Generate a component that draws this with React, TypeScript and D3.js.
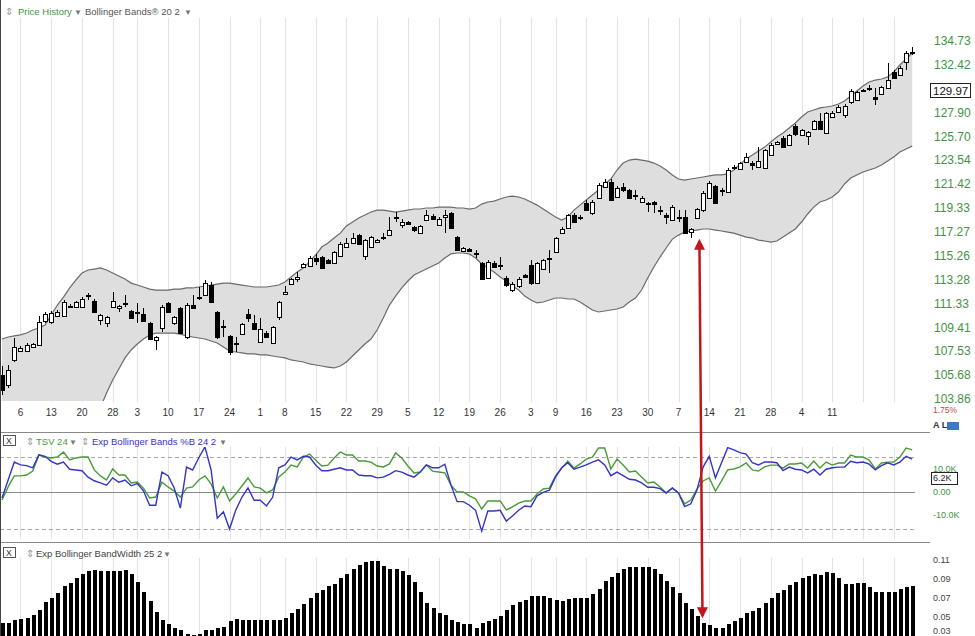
import React from 'react';
import * as d3 from 'd3';

const N = 149;

const opens = [105.68,104.92,106.85,107.55,107.55,107.86,108.02,109.92,109.84,110.32,
110.32,111.10,111.04,111.04,111.93,111.53,110.00,109.76,111.04,110.96,
111.33,110.72,110.64,110.48,109.76,108.41,109.36,111.37,109.76,110.96,
108.65,111.20,111.81,112.01,112.83,110.64,109.52,108.73,108.14,108.88,
110.48,109.76,108.26,108.96,108.18,110.24,112.09,112.91,113.32,114.32,
114.40,115.07,115.15,114.90,114.65,115.24,115.99,116.33,117.00,115.24,
115.99,116.41,116.83,117.00,118.55,117.86,118.12,117.69,117.17,118.29,
118.64,117.86,118.55,118.89,116.83,115.66,115.83,115.49,114.65,113.41,
114.65,114.45,113.41,112.42,112.75,113.66,114.49,112.99,114.15,114.99,
115.57,117.17,117.60,118.72,118.46,119.76,118.89,120.20,121.16,121.60,
120.29,121.16,120.90,120.46,119.85,119.67,119.85,119.15,118.72,118.29,
118.51,118.55,117.26,118.46,119.15,120.20,121.25,120.86,120.72,122.89,
122.76,123.38,123.29,122.94,122.85,124.01,125.05,125.56,124.91,126.66,
125.83,125.74,126.38,127.12,126.01,127.49,127.95,127.67,128.88,129.07,
129.96,130.15,129.35,129.64,130.20,131.73,131.44,132.69,133.61];

const highs = [106.38,106.46,108.57,107.94,108.18,108.18,110.32,110.64,110.72,110.80,
111.61,111.29,111.53,111.85,112.17,111.69,110.48,110.32,112.26,111.20,
112.01,110.80,111.37,110.96,109.84,108.73,111.20,111.45,110.32,111.04,
111.37,112.01,112.67,113.24,113.08,110.72,110.00,108.81,108.65,109.76,
110.88,110.40,110.16,109.12,109.52,111.53,112.75,113.41,113.90,114.65,
115.24,115.41,115.24,114.99,115.66,116.41,116.75,117.17,117.09,116.66,
116.92,116.66,117.17,118.55,118.98,118.38,118.20,117.78,117.86,119.15,
118.81,118.55,119.15,118.98,116.92,115.99,115.91,115.74,114.74,114.90,
114.82,115.15,113.57,113.08,113.49,113.74,114.90,114.74,114.99,115.74,
116.83,117.69,118.81,118.89,118.72,120.02,120.02,121.52,121.87,121.87,
121.25,121.52,120.99,120.90,120.37,119.85,119.93,119.50,118.89,119.58,
119.15,119.15,117.60,119.33,120.81,121.69,121.34,121.08,122.85,123.12,
123.38,124.19,123.47,124.73,124.55,125.10,125.28,125.74,125.92,126.84,
126.38,126.20,127.21,127.86,127.95,128.05,128.60,128.70,130.11,129.92,
130.11,130.48,130.20,130.39,132.59,131.92,132.30,133.75,134.14];

const lows = [104.16,104.69,106.69,107.47,107.47,107.79,107.94,109.76,109.68,110.24,
110.24,110.96,110.96,110.96,111.61,110.56,109.60,109.44,110.96,110.64,
111.04,110.08,109.76,109.84,108.41,107.63,109.04,110.56,109.60,108.88,
108.49,110.88,111.61,111.93,111.37,108.49,108.65,107.24,107.47,108.81,
109.84,109.20,108.18,108.57,108.10,110.00,112.01,112.83,113.08,114.24,
114.32,114.49,114.15,114.57,114.57,115.15,115.91,116.24,116.16,114.90,
115.91,116.33,116.58,116.92,118.12,117.60,117.86,117.26,117.09,118.20,
118.29,117.78,117.17,117.52,115.66,115.60,115.57,115.07,113.24,113.32,
114.24,114.07,112.67,112.26,112.59,113.41,112.83,112.91,114.07,113.82,
115.49,117.09,117.52,118.03,118.29,119.06,118.72,120.11,121.08,119.93,
120.20,120.72,120.11,120.02,119.76,118.98,118.89,118.72,117.95,118.20,
118.12,117.09,116.75,118.38,118.98,120.11,119.67,120.37,120.64,122.67,
122.67,123.29,122.67,122.85,122.76,123.92,125.01,124.64,124.82,125.74,
125.74,124.91,126.29,126.29,125.92,127.39,127.86,127.39,128.70,128.98,
129.92,129.92,128.60,129.54,130.11,131.06,131.34,131.92,133.36];

const closes = [104.54,106.07,107.86,107.79,108.02,108.10,109.84,110.48,110.56,110.64,
111.45,111.05,111.45,111.69,112.01,110.64,110.40,110.24,111.53,111.12,
111.37,110.16,110.60,109.92,108.49,108.65,111.04,110.64,110.24,108.96,
111.20,110.96,111.85,112.99,111.45,108.65,109.48,107.47,108.18,109.68,
110.16,109.28,109.28,108.65,109.44,111.45,112.26,113.32,113.49,114.57,
115.07,114.82,114.24,114.65,115.57,116.24,116.33,116.75,116.24,116.58,
116.83,116.58,116.87,117.43,118.51,118.12,117.95,117.43,117.78,118.72,
118.38,118.38,118.72,117.60,115.74,115.91,115.66,115.41,113.32,114.74,
114.32,114.40,112.83,112.91,113.32,113.49,112.99,114.65,114.90,115.03,
116.75,117.52,118.72,118.12,118.59,119.15,119.85,121.34,121.60,120.02,
121.08,120.90,120.20,120.42,120.20,119.76,119.67,119.19,118.55,119.41,
118.55,117.17,117.52,119.24,120.64,121.52,119.76,120.90,122.67,122.94,
123.29,123.83,123.12,123.47,124.46,124.91,125.19,124.73,125.83,125.92,
126.29,126.11,127.12,126.38,127.86,127.86,128.42,128.51,129.92,129.82,
130.01,130.20,129.17,130.29,130.96,131.15,132.11,133.56,133.66];

const upperBand = [108.49,108.65,108.73,108.81,108.96,109.20,109.36,109.60,110.40,111.20,
111.85,112.59,113.24,113.82,114.07,114.15,114.24,114.07,113.82,113.57,
113.32,112.99,112.83,112.67,112.50,112.42,112.42,112.42,112.50,112.50,
112.59,112.59,112.67,112.75,112.83,112.91,112.99,112.99,112.91,112.83,
112.75,112.67,112.67,112.67,112.75,112.83,113.08,113.49,113.90,114.24,
114.74,115.32,115.99,116.33,116.75,117.17,117.78,118.12,118.46,118.72,
118.98,119.15,119.15,119.06,118.98,119.06,119.15,119.24,119.24,119.33,
119.33,119.41,119.41,119.41,119.33,119.33,119.24,119.33,119.67,119.85,
119.93,120.11,120.29,120.37,120.29,120.11,119.85,119.58,119.24,118.89,
118.55,118.29,118.55,119.15,119.58,120.02,120.46,120.90,121.43,121.87,
122.67,123.29,123.56,123.65,123.56,123.47,123.29,123.03,122.67,122.23,
121.87,121.78,121.87,121.96,122.05,122.14,122.23,122.23,122.32,122.67,
123.20,123.65,124.01,124.37,124.73,125.19,125.65,126.01,126.47,126.93,
127.49,127.95,128.14,128.33,128.42,128.51,128.70,128.98,129.45,129.92,
130.39,130.77,130.96,131.06,131.25,131.73,132.40,132.98,133.56];

const lowerBand = [96.5,96.7,96.9,97.1,97.3,97.6,97.9,98.3,98.7,99.2,
99.7,100.2,100.7,101.3,101.9,102.5,103.2,104.31,105.30,106.15,
107.01,107.63,108.10,108.49,108.81,108.96,108.96,108.96,108.96,108.88,
108.73,108.65,108.57,108.49,108.33,108.18,107.86,107.55,107.47,107.40,
107.32,107.32,107.24,107.24,107.16,107.08,107.01,106.85,106.77,106.69,
106.54,106.46,106.38,106.30,106.23,106.38,106.69,107.16,107.63,108.10,
108.49,109.20,110.16,111.20,111.93,112.59,113.16,113.66,113.90,114.15,
114.40,114.65,115.07,115.41,115.49,115.49,115.41,115.07,114.57,114.24,
113.90,113.49,113.16,112.75,112.42,111.93,111.61,111.37,111.45,111.61,
111.77,111.77,111.69,111.69,111.45,111.12,110.80,110.64,110.72,110.80,
110.88,111.04,111.45,111.77,112.42,113.41,114.32,115.15,115.91,116.66,
117.00,117.26,117.35,117.43,117.52,117.52,117.43,117.35,117.26,117.17,
117.00,116.83,116.75,116.58,116.50,116.41,116.50,116.83,117.17,117.52,
118.12,118.81,119.41,119.85,120.02,120.29,120.72,121.43,121.96,122.23,
122.49,122.67,122.85,123.12,123.47,123.83,124.28,124.55,124.82];

// TSV in thousands
const tsvK = [-3.5,2.2,7.0,7.0,7.4,9.1,16.1,15.2,14.8,15.2,
17.4,13.9,14.8,15.2,15.2,9.6,7.0,5.2,10.0,7.4,
7.4,3.9,4.3,1.7,-2.6,-2.2,4.3,2.2,0.4,-2.2,
1.7,2.2,5.2,7.0,3.5,-2.6,2.2,-3.9,-0.9,2.6,
6.1,2.2,1.7,-0.4,0.9,6.5,8.7,11.7,10.9,15.2,
16.5,13.9,11.3,11.7,14.8,17.4,16.1,16.1,13.5,13.5,
13.0,11.3,10.9,12.2,17.0,14.8,11.3,8.3,8.7,11.7,
9.1,8.7,8.3,3.0,0.0,0.0,-1.7,-3.0,-7.4,-3.9,
-3.9,-3.9,-7.8,-6.5,-4.8,-3.9,-3.9,-0.9,1.3,1.7,
7.0,10.4,13.5,10.4,12.2,14.3,15.2,19.1,19.1,10.0,
14.3,11.7,8.7,9.1,6.5,3.9,4.3,2.2,-0.4,1.7,
-0.4,-5.2,-3.5,1.3,4.8,6.1,0.4,4.8,9.6,10.0,
10.9,12.6,9.6,9.1,10.9,11.7,11.7,10.4,12.2,12.2,
12.6,10.4,13.5,10.4,13.0,11.7,12.6,12.6,16.1,15.2,
15.2,13.9,10.0,12.6,13.0,13.0,15.2,19.1,18.3];

const pctB = [0.43,0.68,0.93,0.89,0.88,0.85,1.03,1.01,0.94,0.90,
0.93,0.83,0.82,0.81,0.72,0.67,0.64,0.61,0.71,0.65,
0.68,0.60,0.63,0.53,0.33,0.33,0.79,0.74,0.57,0.29,
0.86,0.82,0.99,1.14,0.82,0.15,0.24,0.00,0.26,0.44,
0.57,0.40,0.40,0.32,0.44,0.85,0.89,1.00,0.96,1.01,
1.00,0.89,0.81,0.81,0.83,0.85,0.82,0.82,0.75,0.74,
0.74,0.71,0.72,0.76,0.81,0.79,0.75,0.72,0.79,0.89,
0.85,0.85,0.90,0.61,0.38,0.38,0.33,0.26,-0.03,0.25,
0.25,0.26,0.11,0.18,0.26,0.32,0.31,0.46,0.51,0.54,
0.72,0.85,0.92,0.83,0.86,0.89,0.93,0.96,0.89,0.74,
0.79,0.74,0.69,0.68,0.64,0.58,0.58,0.56,0.50,0.57,
0.50,0.31,0.35,0.54,0.86,1.01,0.71,0.92,1.13,1.10,
1.06,1.04,0.92,0.89,0.93,0.93,0.92,0.81,0.86,0.83,
0.82,0.78,0.83,0.75,0.83,0.85,0.86,0.86,0.94,0.92,
0.93,0.90,0.82,0.88,0.92,0.89,0.93,1.01,0.97];

const bandwidth = [0.0437,0.0437,0.0465,0.0479,0.0494,0.0518,0.0578,0.0656,0.0705,0.0754,
0.0825,0.0860,0.0913,0.0952,0.0987,0.0994,0.0984,0.0980,0.0980,0.0984,
0.0994,0.0952,0.0870,0.0758,0.0669,0.0553,0.0472,0.0430,0.0388,0.0359,
0.0317,0.0314,0.0324,0.0367,0.0367,0.0388,0.0394,0.0454,0.0479,0.0465,
0.0465,0.0473,0.0473,0.0473,0.0473,0.0473,0.0494,0.0542,0.0589,0.0642,
0.0705,0.0748,0.0783,0.0822,0.0846,0.0906,0.0952,0.1002,0.1047,0.1079,
0.1086,0.1086,0.1040,0.1002,0.1002,0.0987,0.0941,0.0870,0.0758,0.0652,
0.0595,0.0542,0.0518,0.0473,0.0447,0.0430,0.0423,0.0388,0.0437,0.0454,
0.0479,0.0511,0.0571,0.0631,0.0659,0.0684,0.0719,0.0719,0.0719,0.0695,
0.0677,0.0669,0.0687,0.0695,0.0695,0.0705,0.0740,0.0800,0.0878,0.0917,
0.0966,0.1002,0.1030,0.1030,0.1030,0.1026,0.1002,0.0948,0.0881,0.0818,
0.0748,0.0652,0.0581,0.0507,0.0437,0.0412,0.0388,0.0388,0.0423,0.0458,
0.0494,0.0547,0.0564,0.0599,0.0648,0.0695,0.0748,0.0783,0.0835,0.0870,
0.0906,0.0931,0.0952,0.0944,0.0970,0.0959,0.0906,0.0849,0.0846,0.0853,
0.0860,0.0811,0.0765,0.0765,0.0765,0.0765,0.0790,0.0818,0.0825];

const dateLabels = ["6","13","20","28","3","10","17","24","1","8","15","22","29","5","12","19","26","3","9","16","23","30","7","14","21","28","4","11"];
const dateIdx = [3,8,13,18,22,27,32,37,42,46,51,56,61,66,71,76,81,86,90,95,100,105,110,115,120,125,130,135];
const extraGridIdx = [140, 145];

const priceTicks = [134.73,132.42,127.90,125.70,123.54,121.42,119.33,117.27,115.26,113.28,111.33,109.41,107.53,105.68,103.86];
const lastPrice = 129.97;
const tsvTicks = [10, 0, -10];
const tsvTickLabels = ["10.0K", "0.00", "-10.0K"];
const tsvLast = 6.2;
const bwTicks = [0.11, 0.09, 0.07, 0.05, 0.03];

// annotation arrow: from price low near bar 113 down to the bandwidth squeeze
const arrowIdx = [113.4, 113.9];
const arrowPrice = 116.5;
const arrowBw = 0.051;

const FONT = "'Liberation Sans', Arial, sans-serif";
const GREEN = '#3f943f';
const BLUE = '#3434c8';
const TSVGREEN = '#4a9a3a';
const RED = '#c0161c';

export default function App() {
  const x = d3.scaleLinear().domain([0, N - 1]).range([2, 912.2]);
  const yP = d3.scaleLog().domain([103.86, 134.73]).range([399, 41]);
  const yB = d3.scaleLinear().domain([0, 1]).range([529, 457]);
  const yT = d3.scaleLinear().domain([-10, 10]).range([515, 469]);
  const yW = d3.scaleLinear().domain([0.03, 0.11]).range([636, 560]);

  const idx = d3.range(N);
  const bandArea = d3.area<number>().x(i => x(i)).y0(i => yP(lowerBand[i])).y1(i => yP(upperBand[i]));
  const upLine = d3.line<number>().x(i => x(i)).y(i => yP(upperBand[i]));
  const loLine = d3.line<number>().x(i => x(i)).y(i => yP(lowerBand[i]));
  const tsvLine = d3.line<number>().x(i => x(i)).y(i => yT(tsvK[i]));
  const pbLine = d3.line<number>().x(i => x(i)).y(i => yB(pctB[i]));

  const gridIdx = [...dateIdx, ...extraGridIdx];

  const ax1 = x(arrowIdx[0]);
  const ay1 = yP(arrowPrice);
  const ax2 = x(arrowIdx[1]);
  const ay2 = yW(arrowBw);

  return (
    <svg width={975} height={636} style={{ position: 'absolute', left: 0, top: 0, background: '#fff' }} fontFamily={FONT}>
      <defs>
        <clipPath id="cp1"><rect x={0} y={18} width={918} height={383} /></clipPath>
        <clipPath id="cp2"><rect x={0} y={447} width={918} height={92} /></clipPath>
        <clipPath id="cp3"><rect x={0} y={556} width={918} height={80} /></clipPath>
        <marker id="ah" viewBox="0 0 10 10" refX="8" refY="5" markerWidth="4.4" markerHeight="4.4" orient="auto-start-reverse">
          <path d="M0,0 L10,5 L0,10 z" fill={RED} />
        </marker>
      </defs>
      <rect x={0} y={0} width={975} height={636} fill="#fff" />

      {/* Gridlines */}
      {gridIdx.map((i, k) => {
        const gx = Math.round(x(i)) + 0.5;
        return (
          <g key={'g' + k} stroke="#e2e2e2" strokeWidth={1} shapeRendering="crispEdges">
            <line x1={gx} x2={gx} y1={18} y2={402} />
            <line x1={gx} x2={gx} y1={447} y2={539} />
            <line x1={gx} x2={gx} y1={558} y2={636} />
          </g>
        );
      })}

      {/* Price panel */}
      <g clipPath="url(#cp1)">
        <path d={bandArea(idx) || ''} fill="#dedede" />
        <path d={upLine(idx) || ''} fill="none" stroke="#6a6a6a" strokeWidth={1.2} />
        <path d={loLine(idx) || ''} fill="none" stroke="#6a6a6a" strokeWidth={1.2} />
        {idx.map(i => {
          const cx = Math.round(x(i));
          const yo = yP(opens[i]);
          const yc = yP(closes[i]);
          const top = Math.round(Math.min(yo, yc));
          let bot = Math.round(Math.max(yo, yc));
          if (bot - top < 1) bot = top + 1;
          const up = closes[i] >= opens[i];
          const yh = Math.round(yP(highs[i]));
          const yl = Math.round(yP(lows[i]));
          return (
            <g key={'c' + i} shapeRendering="crispEdges">
              <line x1={cx + 0.5} x2={cx + 0.5} y1={yh} y2={top} stroke="#000" />
              <line x1={cx + 0.5} x2={cx + 0.5} y1={bot} y2={yl} stroke="#000" />
              <rect x={cx - 1.5} y={top + 0.5} width={4} height={bot - top} fill={up ? '#fff' : '#000'} stroke="#000" strokeWidth={1} />
            </g>
          );
        })}
      </g>

      {/* Header price panel */}
      <g fontSize={9.5}>
        <text x={5} y={15} fill="#999">⇕</text>
        <text x={18} y={15} fill={GREEN}>Price History</text>
        <text x={74} y={15} fill="#777" fontSize={8}>▼</text>
        <text x={85} y={15} fill="#555">Bollinger Bands® 20 2</text>
        <text x={184} y={15} fill="#777" fontSize={8}>▼</text>
      </g>

      {/* Price axis labels */}
      <g fontSize={12} fill={GREEN}>
        {priceTicks.map((t, k) => (
          <text key={'pt' + k} x={934} y={yP(t)} dy="0.35em">{t.toFixed(2)}</text>
        ))}
      </g>
      <rect x={930.5} y={Math.round(yP(lastPrice)) - 6.5} width={40} height={14} fill="#fff" stroke="#222" shapeRendering="crispEdges" />
      <text x={933} y={yP(lastPrice)} dy="0.38em" fontSize={11.5} fill="#111">{lastPrice.toFixed(2)}</text>

      {/* Date labels */}
      <g fontSize={10} fill="#333" textAnchor="middle">
        {dateIdx.map((i, k) => (
          <text key={'d' + k} x={x(i)} y={416}>{dateLabels[k]}</text>
        ))}
      </g>
      <text x={933} y={413} fontSize={8.5} fill="#c04848">1.75%</text>
      <text x={933} y={428} fontSize={9} fill="#333" fontWeight="bold">A L</text>
      <rect x={947} y={422} width={12} height={8} fill="#3a7bbf" />

      {/* separators */}
      <line x1={0} x2={930} y1={432.5} y2={432.5} stroke="#8a8a8a" shapeRendering="crispEdges" />
      <line x1={0} x2={930} y1={542.5} y2={542.5} stroke="#8a8a8a" shapeRendering="crispEdges" />

      {/* Panel 2 header */}
      <rect x={3.5} y={435.5} width={12} height={10} fill="#fff" stroke="#555" shapeRendering="crispEdges" />
      <text x={6} y={444} fontSize={8.5} fill="#333">X</text>
      <g fontSize={9.5}>
        <text x={26} y={445} fill="#999">⇕</text>
        <text x={36} y={445} fill={TSVGREEN}>TSV 24</text>
        <text x={69} y={445} fill="#777" fontSize={8}>▼</text>
        <text x={81} y={445} fill="#999">⇕</text>
        <text x={92} y={445} fill={BLUE}>Exp Bollinger Bands %B 24 2</text>
        <text x={219} y={445} fill="#777" fontSize={8}>▼</text>
      </g>

      {/* Panel 2 reference lines */}
      <g shapeRendering="crispEdges">
        <line x1={0} x2={915} y1={Math.round(yB(1)) + 0.5} y2={Math.round(yB(1)) + 0.5} stroke="#a8a8a8" strokeDasharray="4,3" />
        <line x1={0} x2={915} y1={Math.round(yB(0)) + 0.5} y2={Math.round(yB(0)) + 0.5} stroke="#a8a8a8" strokeDasharray="4,3" />
        <line x1={0} x2={915} y1={Math.round(yT(0)) + 0.5} y2={Math.round(yT(0)) + 0.5} stroke="#8a8a8a" />
      </g>
      <g clipPath="url(#cp2)">
        <path d={tsvLine(idx) || ''} fill="none" stroke={TSVGREEN} strokeWidth={1.4} />
        <path d={pbLine(idx) || ''} fill="none" stroke={BLUE} strokeWidth={1.4} />
      </g>
      <g fontSize={9} fill={GREEN}>
        {tsvTicks.map((t, k) => (
          <text key={'tt' + k} x={933} y={yT(t)} dy="0.35em">{tsvTickLabels[k]}</text>
        ))}
      </g>
      <rect x={931.5} y={Math.round(yT(tsvLast)) - 5.5} width={26} height={12} fill="#fff" stroke="#222" shapeRendering="crispEdges" />
      <text x={933} y={yT(tsvLast)} dy="0.38em" fontSize={9} fill="#222">{tsvLast.toFixed(1)}K</text>

      {/* Panel 3 header */}
      <rect x={3.5} y={547.5} width={12} height={10} fill="#fff" stroke="#555" shapeRendering="crispEdges" />
      <text x={6} y={556} fontSize={8.5} fill="#333">X</text>
      <g fontSize={9.5}>
        <text x={26} y={557} fill="#999">⇕</text>
        <text x={36} y={557} fill="#444">Exp Bollinger BandWidth 25 2</text>
        <text x={163} y={557} fill="#777" fontSize={8}>▼</text>
      </g>

      {/* Bandwidth bars */}
      <g clipPath="url(#cp3)" shapeRendering="crispEdges">
        {idx.map(i => {
          const cx = Math.round(x(i));
          const yt = Math.round(yW(bandwidth[i]));
          return <rect key={'b' + i} x={cx - 1} y={yt} width={4} height={640 - yt} fill="#000" />;
        })}
      </g>
      <g fontSize={9} fill="#444">
        {bwTicks.map((t, k) => (
          <text key={'bw' + k} x={933} y={Math.min(yW(t) + 3.2, 634)}>{t.toFixed(2)}</text>
        ))}
      </g>

      {/* left border */}
      <line x1={0.5} x2={0.5} y1={0} y2={636} stroke="#444" shapeRendering="crispEdges" />

      {/* Annotation arrow */}
      <line x1={ax1} y1={ay1} x2={ax2} y2={ay2} stroke={RED} strokeWidth={2.5} markerStart="url(#ah)" markerEnd="url(#ah)" />
    </svg>
  );
}
